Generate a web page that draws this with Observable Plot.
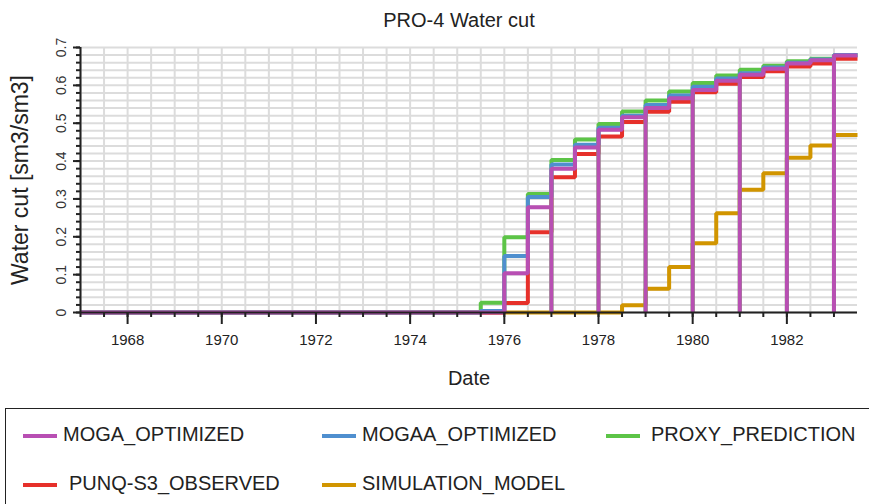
<!DOCTYPE html>
<html>
<head>
<meta charset="utf-8">
<script src="https://cdn.jsdelivr.net/npm/d3@7"></script>
<script src="https://cdn.jsdelivr.net/npm/@observablehq/plot@0.6"></script>
<style>
  body { margin: 0; background: #fff; font-family: "Liberation Sans", Arial, sans-serif; }
  #wrap { position: relative; width: 869px; height: 504px; overflow: hidden; }
  #title { position: absolute; left: 0; top: 9px; width: 918px; text-align: center; font-size: 20px; color: #222; line-height: 22px; }
  #chart { position: absolute; left: 0; top: 0; }
  #legend { position: absolute; left: 5px; top: 408px; width: 900px; height: 120px; border: 1px solid #222; }
  .item { position: absolute; font-size: 20px; color: #222; line-height: 24px; white-space: nowrap; }
  .sw { position: absolute; width: 34px; height: 4px; }
</style>
</head>
<body>
<div id="wrap">
  <div id="chart"></div>
  <div id="title">PRO-4 Water cut</div>
  <div id="legend"></div>
</div>
<script>
// ---- data ----
const dates = [1967, 1975.5, 1976, 1976.5, 1977, 1977.5, 1978, 1978.5, 1979, 1979.5, 1980, 1980.5, 1981, 1981.5, 1982, 1982.5, 1983, 1983.5];
const mogaOptimized  = [0, 0,     0.104, 0.278, 0.380, 0.436, 0.483, 0.516, 0.540, 0.566, 0.588, 0.612, 0.628, 0.644, 0.658, 0.666, 0.679, 0.679];
const mogaaOptimized = [0, 0.004, 0.149, 0.305, 0.391, 0.443, 0.488, 0.520, 0.548, 0.573, 0.596, 0.618, 0.632, 0.647, 0.660, 0.668, 0.680, 0.680];
const proxyPrediction= [0, 0.026, 0.199, 0.313, 0.403, 0.457, 0.498, 0.531, 0.560, 0.584, 0.606, 0.626, 0.641, 0.652, 0.664, 0.670, 0.680, 0.680];
const punqObserved   = [0, 0,     0.025, 0.212, 0.357, 0.419, 0.465, 0.503, 0.530, 0.557, 0.582, 0.604, 0.622, 0.637, 0.650, 0.658, 0.670, 0.670];
const simulationModel= [0, 0,     0,     0,     0,     0,     0,     0.019, 0.063, 0.120, 0.183, 0.262, 0.324, 0.368, 0.409, 0.441, 0.469, 0.469];
// dates where the optimized/proxy curves drop to zero for an instant
const dipDates = [1977, 1978, 1979, 1980, 1981, 1982, 1983];

const seriesNames  = ["MOGA_OPTIMIZED", "MOGAA_OPTIMIZED", "PROXY_PREDICTION", "PUNQ-S3_OBSERVED", "SIMULATION_MODEL"];
const seriesColors = ["#b84fb3", "#4f8fcf", "#5cc447", "#e6302a", "#d19500"];

const xMajorTicks = [1968, 1970, 1972, 1974, 1976, 1978, 1980, 1982];
const yMajorTicks = [0, 0.1, 0.2, 0.3, 0.4, 0.5, 0.6, 0.7];
const xMinorTicks = d3.range(1967, 1983.01, 0.5);
const yMinorTicks = d3.range(0, 0.7001, 0.02).map(v => +v.toFixed(2));

function rows(name, vals, dips) {
  const out = [];
  dates.forEach((d, i) => {
    if (dips.includes(d)) out.push({series: name, date: d, value: 0});
    out.push({series: name, date: d, value: vals[i]});
  });
  return out;
}

const tables = {
  "SIMULATION_MODEL": rows("SIMULATION_MODEL", simulationModel, []),
  "PUNQ-S3_OBSERVED": rows("PUNQ-S3_OBSERVED", punqObserved, []),
  "PROXY_PREDICTION": rows("PROXY_PREDICTION", proxyPrediction, dipDates),
  "MOGAA_OPTIMIZED": rows("MOGAA_OPTIMIZED", mogaaOptimized, []),
  "MOGA_OPTIMIZED": rows("MOGA_OPTIMIZED", mogaOptimized, dipDates)
};
const drawOrder = ["SIMULATION_MODEL", "PUNQ-S3_OBSERVED", "PROXY_PREDICTION", "MOGAA_OPTIMIZED", "MOGA_OPTIMIZED"];
const colorOf = name => seriesColors[seriesNames.indexOf(name)];

const plot = Plot.plot({
  width: 869,
  height: 400,
  marginLeft: 80,
  marginRight: 12,
  marginTop: 47,
  marginBottom: 88,
  style: {fontFamily: "Liberation Sans, Arial, sans-serif", background: "transparent"},
  x: {domain: [1967, 1983.5], axis: null, label: null},
  y: {domain: [0, 0.7], axis: null, label: null},
  marks: [
    Plot.gridY(yMinorTicks, {stroke: "#dcdcdc", strokeOpacity: 1, strokeWidth: 2}),
    Plot.gridX(xMinorTicks, {stroke: "#dcdcdc", strokeOpacity: 1, strokeWidth: 2}),
    ...drawOrder.map(name => Plot.line(tables[name], {
      x: "date", y: "value", stroke: colorOf(name), strokeWidth: 4,
      curve: "step-after", strokeLinejoin: "miter", strokeLinecap: "butt"
    })),
    Plot.ruleY([0], {stroke: "#222", strokeWidth: 2}),
    Plot.ruleX([1967], {stroke: "#222", strokeWidth: 2}),
    Plot.axisX(xMinorTicks, {tickSize: 5, stroke: "#222", strokeWidth: 2, tickFormat: () => "", label: null}),
    Plot.axisX(xMajorTicks, {tickSize: 12, tickPadding: 10, stroke: "#222", strokeWidth: 2, fontSize: 15, fill: "#222", tickFormat: d => String(d), label: null}),
    Plot.axisY(yMinorTicks, {tickSize: 4, stroke: "#222", strokeWidth: 2, tickFormat: () => "", label: null}),
    Plot.axisY(yMajorTicks, {tickSize: 7, stroke: "#222", strokeWidth: 2, tickFormat: () => "", label: null}),
    Plot.text(yMajorTicks, {y: d => d, frameAnchor: "left", dx: -19, rotate: -90, textAnchor: "middle",
      text: d => d === 0 ? "0" : d.toFixed(1), fontSize: 14, fill: "#333"}),
    Plot.text(["Water cut [sm3/sm3]"], {frameAnchor: "left", dx: -60, rotate: -90, textAnchor: "middle", fontSize: 23, fill: "#222"}),
    Plot.text(["Date"], {frameAnchor: "bottom", dy: 72, textAnchor: "middle", fontSize: 20, fill: "#222"})
  ]
});
document.getElementById("chart").appendChild(plot);

// ---- legend ----
const legendPos = [
  {x: 17, y: 23}, {x: 316, y: 23}, {x: 600, y: 23},
  {x: 17, y: 72}, {x: 316, y: 72}
];
const textOffsets = [40, 40, 45, 46, 40];
const legend = document.getElementById("legend");
seriesNames.forEach((name, i) => {
  const p = legendPos[i];
  const sw = document.createElement("div");
  sw.className = "sw";
  sw.style.left = p.x + "px";
  sw.style.top = (p.y + 2) + "px";
  sw.style.background = seriesColors[i];
  legend.appendChild(sw);
  const t = document.createElement("div");
  t.className = "item";
  t.style.left = (p.x + textOffsets[i]) + "px";
  t.style.top = (p.y - 10) + "px";
  t.textContent = name;
  legend.appendChild(t);
});
</script>
</body>
</html>
